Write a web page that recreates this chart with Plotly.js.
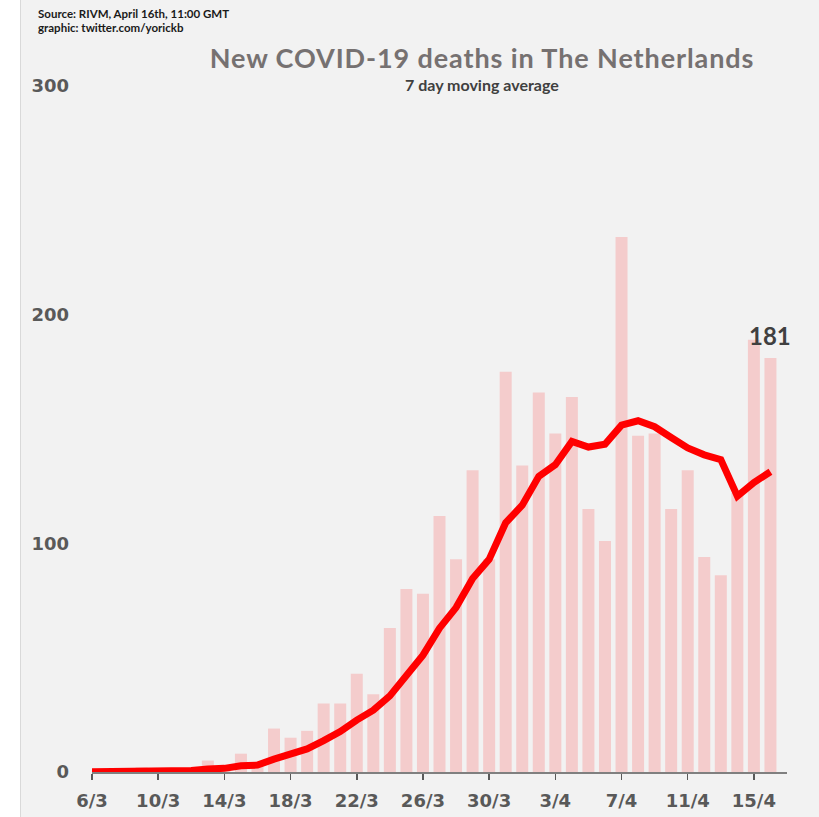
<!DOCTYPE html>
<html>
<head>
<meta charset="utf-8">
<script src="https://cdn.plot.ly/plotly-3.0.1.min.js"></script>
<style>
  html, body { margin: 0; padding: 0; background: #ffffff; width: 819px; height: 817px; overflow: hidden; }
  #chart { position: absolute; left: 20px; top: 0; width: 798px; height: 817px; border-left: 1px solid #d9d9d9; }
  #chart .gtitle { letter-spacing: 0.9px; }
</style>
</head>
<body>
<div id="chart"></div>
<script>
// Dates (6 March - 16 April 2020)
const dates = ['6/3','7/3','8/3','9/3','10/3','11/3','12/3','13/3','14/3','15/3','16/3','17/3','18/3','19/3','20/3','21/3','22/3','23/3','24/3','25/3','26/3','27/3','28/3','29/3','30/3','31/3','1/4','2/4','3/4','4/4','5/4','6/4','7/4','8/4','9/4','10/4','11/4','12/4','13/4','14/4','15/4','16/4'];

// New deaths per day (bars)
const deaths = [1,0,0,2,1,1,0,5,2,8,4,19,15,18,30,30,43,34,63,80,78,112,93,132,93,175,134,166,148,164,115,101,234,147,148,115,132,94,86,122,189,181];

// 7 day moving average (line)
const avg7 = [0.1,0.1,0.1,0.4,0.6,0.7,0.7,1.3,1.6,2.7,3.0,5.6,7.6,10.1,13.7,17.7,22.7,27.0,33.3,42.6,51.1,62.9,71.9,84.6,93.0,109.0,116.7,129.3,134.4,144.6,142.1,143.3,151.7,153.6,151.0,146.3,141.7,138.7,136.6,120.6,126.6,131.3];

// Tick labels
const xTicks = ['6/3','10/3','14/3','18/3','22/3','26/3','30/3','3/4','7/4','11/4','15/4'];
const yTicks = [0, 100, 200, 300];

const titleText = 'New COVID-19 deaths in The Netherlands';
const subtitleText = '7 day moving average';
const sourceText = 'Source: RIVM, April 16th, 11:00 GMT';
const graphicText = 'graphic: twitter.com/yorickb';

const tickFont = { family: 'DejaVu Sans', size: 18, color: '#595959', weight: 700 };

const traces = [
  {
    type: 'bar',
    x: dates,
    y: deaths,
    marker: { color: '#f4cccc', line: { width: 0 } },
    hoverinfo: 'skip'
  },
  {
    type: 'scatter',
    mode: 'lines',
    x: dates,
    y: avg7,
    line: { color: '#ff0000', width: 7 },
    hoverinfo: 'skip'
  }
];

const lastIdx = dates.length - 1;

const layout = {
  width: 798,
  height: 817,
  margin: { l: 71, r: 32, t: 86, b: 45 },
  paper_bgcolor: '#f2f2f2',
  plot_bgcolor: '#f2f2f2',
  showlegend: false,
  bargap: 0.275,
  title: {
    text: titleText,
    font: { family: 'Lato', size: 27, color: '#767171', weight: 700 },
    xref: 'container', x: 0.5777, xanchor: 'center',
    yref: 'container', y: 0.9278, yanchor: 'middle'
  },
  xaxis: {
    type: 'category',
    range: [0, 42],
    showgrid: false,
    zeroline: false,
    showline: true,
    linecolor: '#808080',
    linewidth: 1.5,
    ticks: 'outside',
    ticklen: 6,
    tickwidth: 1.5,
    tickcolor: '#595959',
    tickmode: 'array',
    tickvals: xTicks,
    ticktext: xTicks,
    tickfont: tickFont,
    ticklabelstandoff: 6
  },
  yaxis: {
    range: [0, 300],
    showgrid: false,
    zeroline: false,
    showline: false,
    ticks: '',
    tickmode: 'array',
    tickvals: yTicks,
    ticktext: yTicks.map(String),
    tickfont: tickFont,
    ticklabelstandoff: 22
  },
  annotations: [
    {
      text: subtitleText,
      xref: 'paper', yref: 'paper',
      x: 0.5612, y: 1.0015,
      xanchor: 'center', yanchor: 'middle',
      showarrow: false,
      font: { family: 'Lato', size: 16, color: '#404040', weight: 700 }
    },
    {
      text: sourceText,
      xref: 'paper', yref: 'paper',
      x: -0.0806, y: 1.1064,
      xanchor: 'left', yanchor: 'middle',
      showarrow: false,
      font: { family: 'Lato', size: 11.5, color: '#1a1a1a', weight: 700 }
    },
    {
      text: graphicText,
      xref: 'paper', yref: 'paper',
      x: -0.0806, y: 1.0860,
      xanchor: 'left', yanchor: 'middle',
      showarrow: false,
      font: { family: 'Lato', size: 11.5, color: '#1a1a1a', weight: 700 }
    },
    {
      text: String(deaths[lastIdx]),
      xref: 'x', yref: 'y',
      x: dates[lastIdx], y: deaths[lastIdx],
      xanchor: 'center', yanchor: 'bottom',
      yshift: 6,
      showarrow: false,
      font: { family: 'Lato', size: 24, color: '#404040', weight: 700 }
    }
  ]
};

Plotly.newPlot('chart', traces, layout, { staticPlot: true, displayModeBar: false });
</script>
</body>
</html>
